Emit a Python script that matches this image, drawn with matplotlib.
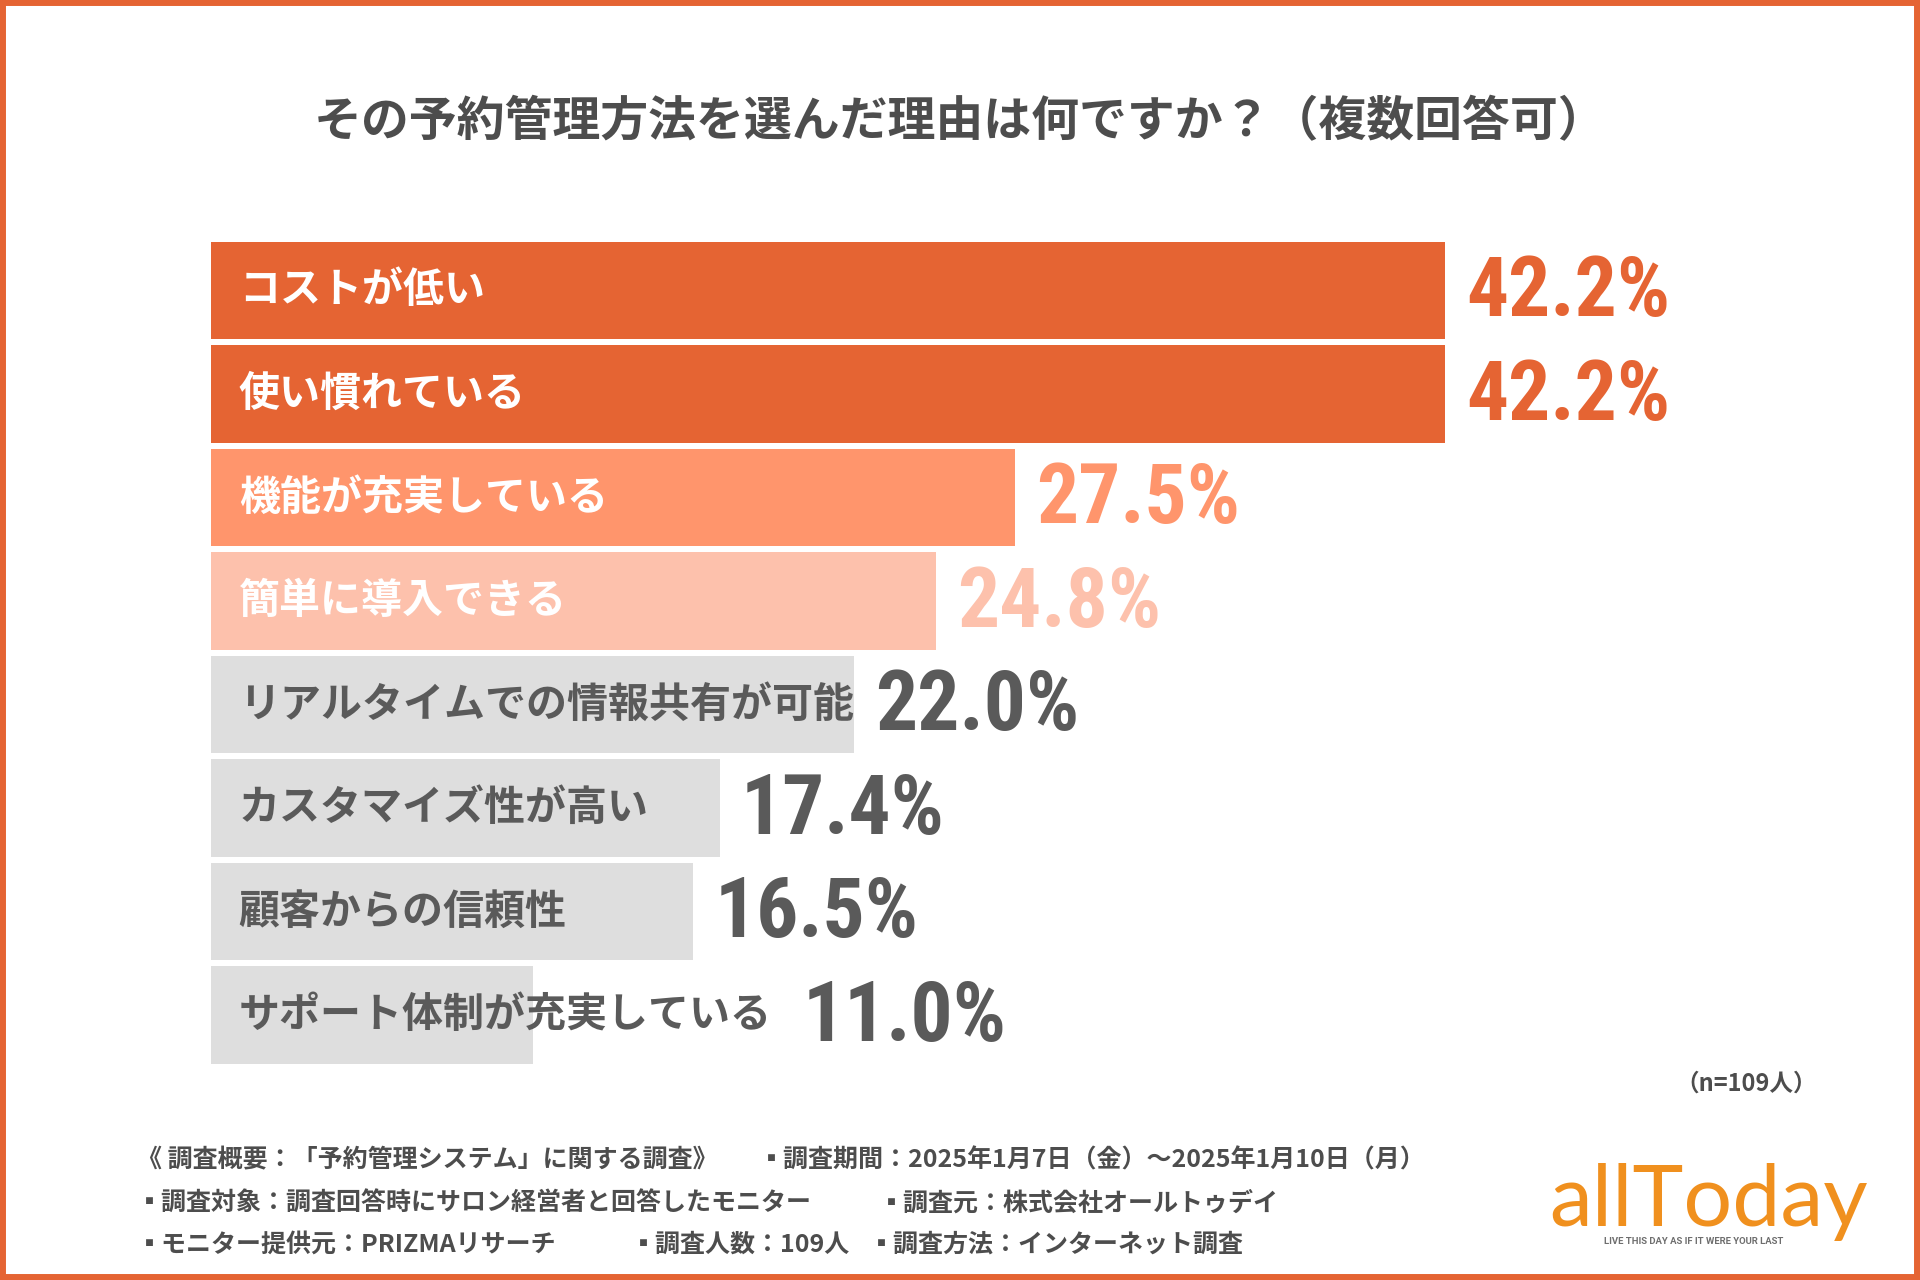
import matplotlib
matplotlib.use("Agg")
import matplotlib.pyplot as plt
from matplotlib import font_manager
from matplotlib.patches import Rectangle

plt.rcParams['font.family'] = ['Noto Sans CJK JP', 'DejaVu Sans']

# data
labels = ["コストが低い", "使い慣れている", "機能が充実している", "簡単に導入できる",
          "リアルタイムでの情報共有が可能", "カスタマイズ性が高い", "顧客からの信頼性",
          "サポート体制が充実している"]
values = [42.2, 42.2, 27.5, 24.8, 22.0, 17.4, 16.5, 11.0]
bar_colors = ["#E56433", "#E56433", "#FF956C", "#FDC1AC",
              "#DEDEDE", "#DEDEDE", "#DEDEDE", "#DEDEDE"]
text_colors = ["white"] * 4 + ["#5A5A5A"] * 4
value_colors = ["#E56433", "#E56433", "#FF956C", "#FDC1AC",
                "#5A5A5A", "#5A5A5A", "#5A5A5A", "#5A5A5A"]

title = "その予約管理方法を選んだ理由は何ですか？（複数回答可）"
note_n = "（n=109人）"
footer = [
    [(137, "《 調査概要：「予約管理システム」に関する調査》"),
     (759, "▪調査期間：2025年1月7日（金）～2025年1月10日（月）")],
    [(137, "▪調査対象：調査回答時にサロン経営者と回答したモニター"),
     (879, "▪調査元：株式会社オールトゥデイ")],
    [(137, "▪モニター提供元：PRIZMAリサーチ"),
     (631, "▪調査人数：109人"),
     (869, "▪調査方法：インターネット調査")],
]
footer_y = [1160, 1203, 1245]

# pick a narrow font for the big numbers if one is installed
fonts = font_manager.fontManager.ttflist
names = {f.name for f in fonts}
num_font = dict(family=["Roboto", "DejaVu Sans"], fontsize=50)
if "Roboto Condensed" in names:
    num_font = dict(family=["Roboto Condensed", "DejaVu Sans"], fontsize=60)
elif "Liberation Sans Narrow" in names:
    num_font = dict(family=["Liberation Sans Narrow", "DejaVu Sans"], fontsize=58)

W, H = 1920, 1280
fig = plt.figure(figsize=(W / 100, H / 100), dpi=100)
fig.patch.set_facecolor("white")

# axes placed in pixels
ax_left, ax_top = 211, 238.75
ax_w, ax_h = 1462, 828
ax = fig.add_axes([ax_left / W, 1 - (ax_top + ax_h) / H, ax_w / W, ax_h / H])
ax.set_xlim(0, 50)
ax.set_ylim(7.5, -0.5)
ax.axis("off")

ypos = list(range(len(labels)))
ax.barh(ypos, values, height=0.94, color=bar_colors)

label_texts = []
for i, lab in enumerate(labels):
    t = ax.annotate(lab, xy=(0, i), xytext=(20, 0), textcoords="offset points",
                    ha="left", va="center", fontsize=29.5, fontweight="bold",
                    color=text_colors[i])
    label_texts.append(t)

fig.canvas.draw()
renderer = fig.canvas.get_renderer()
for i, v in enumerate(values):
    bar_end = ax.transData.transform((v, i))[0]
    txt_end = label_texts[i].get_window_extent(renderer).x1
    # numbers sit after the bar, or after the label when it runs past the bar
    if txt_end > bar_end + 10:
        x_px = txt_end + 31
    else:
        x_px = bar_end + 21
    x_data = ax.transData.inverted().transform((x_px, 0))[0]
    ax.annotate(f"{v:.1f}%", xy=(x_data, i), xytext=(0, -2.5),
                textcoords="offset points", ha="left", va="center",
                fontweight="bold", color=value_colors[i], **num_font)

fig.text(960 / W, 1 - 122 / H, title, ha="center", va="center",
         fontsize=34.5, fontweight="bold", color="#4D4D4D")

fig.text(1817 / W, 1 - 1084 / H, note_n, ha="right", va="center",
         fontsize=17, fontweight="bold", color="#4D4D4D")

for row, y in zip(footer, footer_y):
    for x, s in row:
        fig.text(x / W, 1 - y / H, s, ha="left", va="center", fontsize=18,
                 fontweight="bold", color="#4D4D4D",
                 family=["Noto Sans CJK JP", "DejaVu Sans"])

# logo
fig.text(1549 / W, 1 - 1226 / H, "allToday", ha="left", va="baseline",
         fontsize=62, color="#F0901E", family=["Lato", "DejaVu Sans"])
fig.text(1604 / W, 1 - 1241 / H, "LIVE THIS DAY AS IF IT WERE YOUR LAST",
         ha="left", va="center", fontsize=6.8, fontweight="bold", color="#6E6E6E",
         family=["Roboto", "DejaVu Sans"])

# frame
fig.patches.append(Rectangle((0, 0), 1, 1, transform=fig.transFigure,
                             fill=False, edgecolor="#E56433", linewidth=8.6))

fig.savefig("out.png", dpi=100)
